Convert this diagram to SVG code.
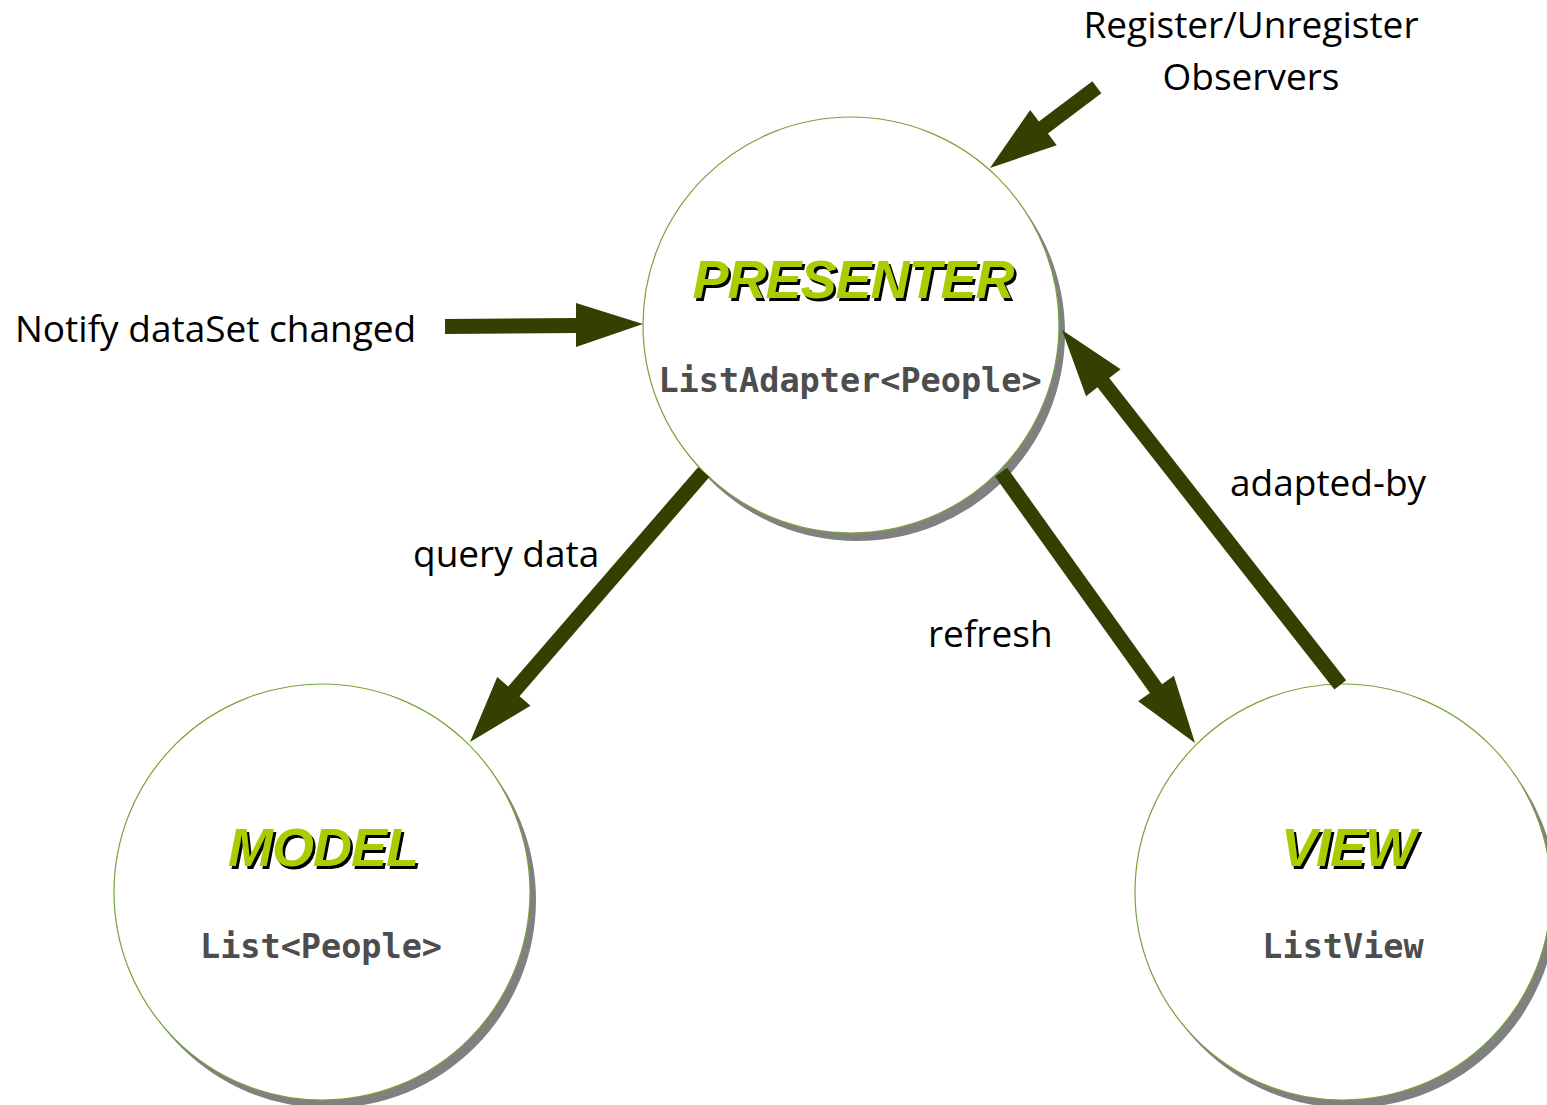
<svg xmlns="http://www.w3.org/2000/svg" width="1547" height="1105" viewBox="0 0 1547 1105">
  <style>
    .shadow { fill: #808080; }
    .disc { fill: #ffffff; stroke: #77a33a; stroke-width: 1.2; }
    .title { font-family: "Liberation Sans", Arial, sans-serif; font-weight: bold; font-style: italic; font-size: 54px; letter-spacing: -1px; text-anchor: middle; }
    .title-fill { fill: #aacc00; }
    .title-shade { fill: #000000; }
    .type { font-family: "DejaVu Sans Mono", "Liberation Mono", monospace; font-weight: bold; font-size: 33.5px; fill: #4d4d4d; text-anchor: middle; }
    .label { font-family: "Open Sans", "Noto Sans", sans-serif; font-size: 37px; fill: #000000; }
    .arrow { fill: #334000; }
  </style>

  <rect width="1547" height="1105" fill="#ffffff"/>

  <!-- Presenter -->
  <g id="presenter">
    <circle class="shadow" cx="857" cy="333" r="208"/>
    <circle class="disc" cx="851" cy="325" r="208"/>
    <text class="title title-shade" x="855.5" y="300.5">PRESENTER</text>
    <text class="title title-fill" x="853" y="298">PRESENTER</text>
    <text class="type" x="850" y="392">ListAdapter&lt;People&gt;</text>
  </g>

  <!-- Model -->
  <g id="model">
    <circle class="shadow" cx="328" cy="900" r="208"/>
    <circle class="disc" cx="322" cy="892" r="208"/>
    <text class="title title-shade" x="325.5" y="868.5">MODEL</text>
    <text class="title title-fill" x="323" y="866">MODEL</text>
    <text class="type" x="321" y="958">List&lt;People&gt;</text>
  </g>

  <!-- View -->
  <g id="view">
    <circle class="shadow" cx="1349" cy="900" r="208"/>
    <circle class="disc" cx="1343" cy="892" r="208"/>
    <text class="title title-shade" x="1350.5" y="868.5">VIEW</text>
    <text class="title title-fill" x="1348" y="866">VIEW</text>
    <text class="type" x="1343" y="958">ListView</text>
  </g>

  <!-- Block arrows: tip at local origin, shaft running back along -x -->
  <g id="connectors">
    <polygon class="arrow" transform="translate(990,168) rotate(142.9)" points="0,0 -67,-22 -67,-7.5 -134,-7.5 -134,7.5 -67,7.5 -67,22"/>
    <polygon class="arrow" points="643,324 576,303 576,318 445,319 445,334 576,333 576,347"/>
    <polygon class="arrow" transform="translate(470,742) rotate(130.9)" points="0,0 -67,-22 -67,-7.5 -357,-7.5 -357,7.5 -67,7.5 -67,22"/>
    <polygon class="arrow" transform="translate(1195,743) rotate(54.4)" points="0,0 -67,-22 -67,-7.5 -333,-7.5 -333,7.5 -67,7.5 -67,22"/>
    <polygon class="arrow" transform="translate(1062,330) rotate(-128.1)" points="0,0 -67,-22 -67,-7.5 -451,-7.5 -451,7.5 -67,7.5 -67,22"/>
  </g>

  <!-- Edge labels -->
  <g id="labels">
    <text class="label" x="1251" y="38" text-anchor="middle">Register/Unregister</text>
    <text class="label" x="1251" y="90" text-anchor="middle">Observers</text>
    <text class="label" x="15" y="342">Notify dataSet changed</text>
    <text class="label" x="413" y="567">query data</text>
    <text class="label" x="928" y="647">refresh</text>
    <text class="label" x="1230" y="496">adapted-by</text>
  </g>
</svg>
